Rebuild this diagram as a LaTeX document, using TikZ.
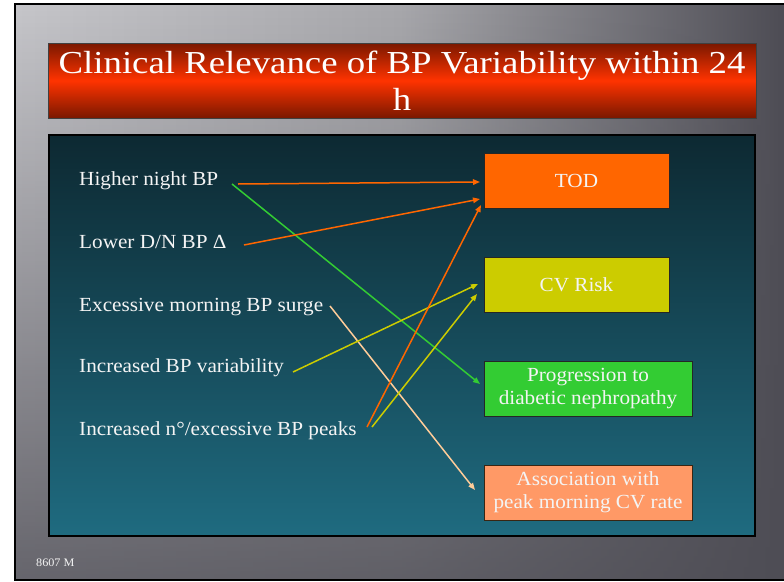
\documentclass[tikz,border=0pt]{standalone}
\usepackage{fontspec}
\setmainfont{Liberation Serif}[FakeStretch=1.06]
\newfontfamily\titlefont{Liberation Serif}[FakeStretch=1.15]
\usetikzlibrary{arrows.meta,fadings}
\definecolor{frameL}{HTML}{C6C6CA}
\definecolor{frameM}{HTML}{A8A8AC}
\definecolor{frameR}{HTML}{4E4D55}
\definecolor{titleDark}{HTML}{7A1800}
\definecolor{titleMid}{HTML}{FF3300}
\definecolor{panelTop}{HTML}{0D2932}
\definecolor{panelBot}{HTML}{1F6B80}
\definecolor{todC}{HTML}{FF6600}
\definecolor{cvC}{HTML}{CCCC00}
\definecolor{progC}{HTML}{33CC33}
\definecolor{assocC}{HTML}{FF9966}
\definecolor{peachC}{HTML}{FFCC99}
\definecolor{txtC}{HTML}{F4F4F4}
\tikzset{
  lefttext/.style={anchor=base west, inner sep=0pt, text=txtC, font=\fontsize{20}{23}\selectfont},
  outbox/.style={draw=black!85, line width=1pt, text=txtC, minimum height=55pt, align=center,
    inner sep=0pt, font=\fontsize{20}{23}\selectfont},
  conn/.style={line width=1.5pt, -{Triangle[length=7pt,width=5.5pt]}},
}
\begin{document}
\begin{tikzpicture}[x=1pt,y=-1pt]
\useasboundingbox (0,0) rectangle (784,581);
\fill[white] (0,0) rectangle (784,581);
% frame background
\shade[left color=frameL, right color=frameR, middle color=frameM] (15,4) rectangle (784,580);
\fill[frameR, path fading=north, fill opacity=0.8] (15,4) rectangle (784,580);
\draw[black, line width=2pt] (786,4) -- (15,4) -- (15,580) -- (786,580);
% title
\shade[top color=titleDark, bottom color=titleDark, middle color=titleMid] (48,43) rectangle (756,118);
\draw[black!75, line width=1pt] (48,43) rectangle (756,118);
\node (title) [align=center, text=white, inner sep=0pt, font=\titlefont\fontsize{32}{37}\selectfont] at (402,81)
  {Clinical Relevance of BP Variability within 24\\h};
% panel
\shade[top color=panelTop, bottom color=panelBot] (49,135) rectangle (755,536);
\draw[black, line width=1.5pt] (49,135) rectangle (755,536);
% left texts
\node (hn) [lefttext] at (79,185) {Higher night BP};
\node (ld) [lefttext] at (79,248) {Lower D/N BP Δ};
\node (em) [lefttext] at (79,311) {Excessive morning BP surge};
\node (iv) [lefttext] at (79,372) {Increased BP variability};
\node (ip) [lefttext] at (79,435) {Increased n°/excessive BP peaks};
% right boxes
\node (tod) [outbox, fill=todC, minimum width=185pt] at (576.5,180.5) {TOD};
\node (cv) [outbox, fill=cvC, minimum width=185pt] at (576.5,284.5) {CV Risk};
\node (prog) [outbox, fill=progC, minimum width=208pt] at (588,388.5) {Progression to\\diabetic nephropathy};
\node (assoc) [outbox, fill=assocC, draw=black!70!brown, minimum width=208pt] at (588,492.5) {Association with\\peak morning CV rate};
% connector end points
\coordinate (s1) at (238,184);
\coordinate (e1) at (480,182);
\coordinate (s2) at (232,184);
\coordinate (e2) at (480,384);
\coordinate (s3) at (244,245);
\coordinate (e3) at (480,199);
\coordinate (s4) at (367,427);
\coordinate (e4) at (481,205);
\coordinate (s5) at (293,372);
\coordinate (e5) at (478,284);
\coordinate (s6) at (372,427);
\coordinate (e6) at (477,294);
\coordinate (s7) at (330,306);
\coordinate (e7) at (475,490);
\draw[conn, draw=progC, fill=progC] (s2) -- (e2);
\draw[conn, draw=todC, fill=todC] (s1) -- (e1);
\draw[conn, draw=todC, fill=todC] (s3) -- (e3);
\draw[conn, draw=peachC, fill=peachC] (s7) -- (e7);
\draw[conn, draw=cvC, fill=cvC] (s5) -- (e5);
\draw[conn, draw=todC, fill=todC] (s4) -- (e4);
\draw[conn, draw=cvC, fill=cvC] (s6) -- (e6);
% footer
\node (code) [anchor=base west, inner sep=0pt, text=txtC, font=\fontsize{11.5}{13}\selectfont] at (36,566) {8607 M};
\end{tikzpicture}
\end{document}
